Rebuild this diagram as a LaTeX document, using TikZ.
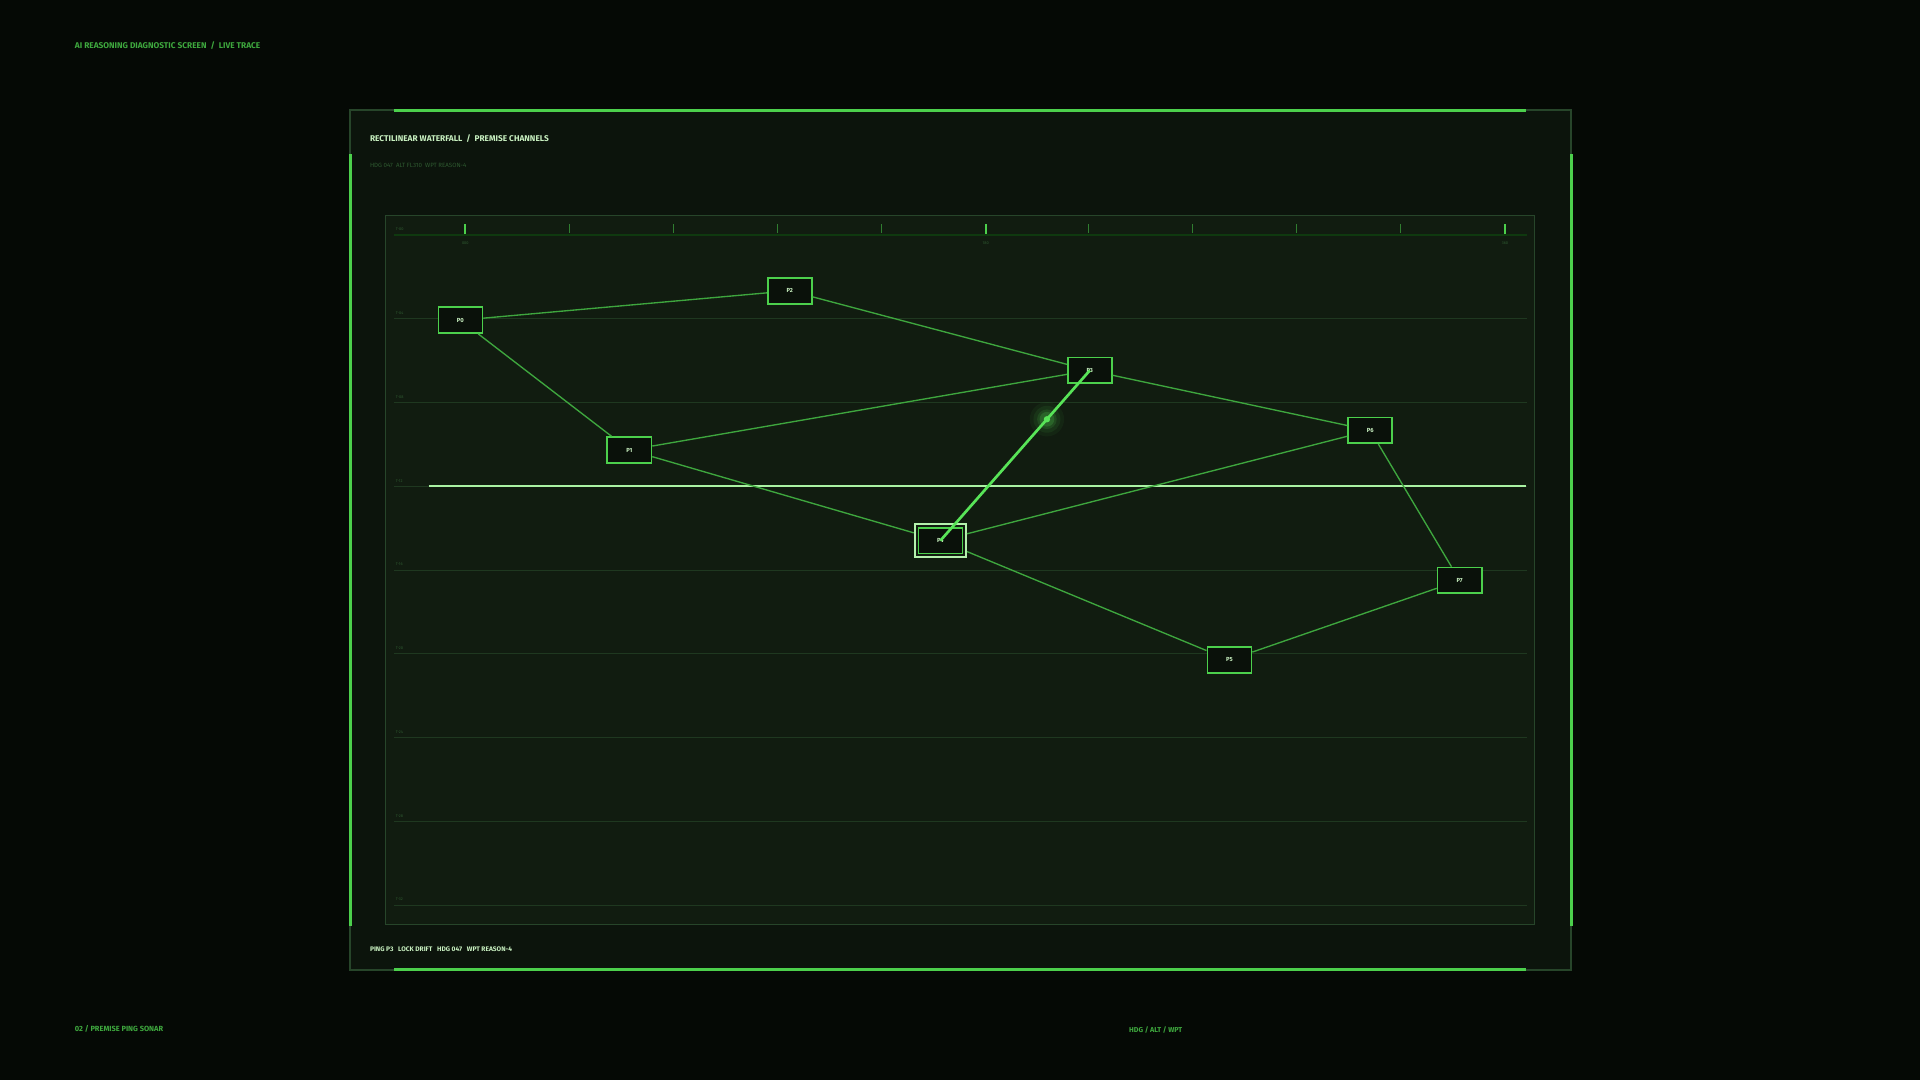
\documentclass[tikz,border=0pt]{standalone}
\usepackage{fontspec}
\newfontfamily\hud{Fira Sans}
\definecolor{bgc}{HTML}{050905}
\definecolor{panelc}{HTML}{0C140C}
\definecolor{plotc}{HTML}{111C10}
\definecolor{dimborder}{HTML}{27452A}
\definecolor{brightg}{HTML}{4CD04C}
\definecolor{edgeg}{HTML}{3EA63E}
\definecolor{hig}{HTML}{58E458}
\definecolor{paleg}{HTML}{C8F0C0}
\definecolor{gridc}{HTML}{1F3820}
\definecolor{dimtxt}{HTML}{2E5A30}
\definecolor{midtxt}{HTML}{3EA83E}
\definecolor{boxfill}{HTML}{0A110A}
\tikzset{
  pnode/.style={draw=brightg, line width=1.4pt, fill=boxfill, minimum width=36pt, minimum height=21pt, inner sep=0pt, text=paleg, font=\hud\bfseries\fontsize{4.8}{5}\selectfont},
  edgeline/.style={draw=edgeg, line width=1.1pt},
  hiline/.style={draw=hig, line width=2.2pt},
  gridline/.style={draw=gridc, line width=0.7pt},
  ticklbl/.style={text=dimtxt, font=\hud\fontsize{3.2}{4}\selectfont, inner sep=0pt},
  hudtxt/.style={anchor=west, inner sep=0pt, font=\hud\bfseries\fontsize{6.8}{8}\selectfont},
}
\begin{document}
\begin{tikzpicture}[x=1pt,y=-1pt]
\useasboundingbox (0,0) rectangle (1568,882);
\fill[bgc] (0,0) rectangle (1568,882);
% outer panel
\fill[panelc] (286,90) rectangle (1283,792);
\draw[dimborder, line width=1.6pt] (286,90) rectangle (1283,792);
\draw[brightg, line width=2.4pt] (322,90) -- (1246,90);
\draw[brightg, line width=2.4pt] (322,792) -- (1246,792);
\draw[brightg, line width=2.4pt] (286,126) -- (286,756);
\draw[brightg, line width=2.4pt] (1283,126) -- (1283,756);
% texts
\node[hudtxt, text=midtxt] (ttl) at (61,37) {AI REASONING DIAGNOSTIC SCREEN~~/~~LIVE TRACE};
\node[hudtxt, text=paleg] (ptitle) at (302,113) {RECTILINEAR WATERFALL~~/~~PREMISE CHANNELS};
\node[hudtxt, text=dimtxt, font=\hud\fontsize{5}{6}\selectfont] (psub) at (302,135) {HDG 047~~ALT FL310~~WPT REASON-4};
\node[hudtxt, text=paleg, font=\hud\bfseries\fontsize{5.4}{6}\selectfont] (status) at (302,775) {PING P3~~~LOCK DRIFT~~~HDG 047~~~WPT REASON-4};
\node[hudtxt, text=midtxt, font=\hud\bfseries\fontsize{6.1}{7}\selectfont] (foot) at (61,840) {02 / PREMISE PING SONAR};
\node[hudtxt, text=midtxt, font=\hud\bfseries\fontsize{5.8}{7}\selectfont] (foot2) at (922,841) {HDG / ALT / WPT};
% plot box
\fill[plotc] (315,176) rectangle (1253,755);
\draw[dimborder, line width=0.8pt] (315,176) rectangle (1253,755);
% axis
\draw[gridc!80!green!60!black, line width=1pt] (322,192) -- (1247,192);
\foreach \x in {465,550,635,720,889,974,1059,1144} {\draw[edgeg!70!plotc, line width=0.9pt] (\x,183) -- (\x,190);}
\foreach \x in {380,805,1229} {\draw[brightg, line width=1.8pt] (\x,183) -- (\x,191);}
\node[ticklbl] (tl0) at (380,199) {000};
\node[ticklbl] (tl1) at (805,199) {180};
\node[ticklbl] (tl2) at (1229,199) {360};
\node[ticklbl, anchor=west] (t00) at (323,187) {T-00};
% grid
\foreach \y/\l in {260.4/T-04,328.8/T-08,397.2/T-12,465.6/T-16,534/T-20,602.4/T-24,670.8/T-28,739.2/T-32} {
  \draw[gridline] (322,\y) -- (1247,\y);
  \node[ticklbl, anchor=west] at (323,\y-4.5) {\l};
}
% cursor line
\draw[paleg!85!green, line width=2.2pt] (350,397) -- (1246,397);
% nodes
\node[pnode] (P0) at (376,261.5) {P0};
\node[pnode] (P2) at (645,237.5) {P2};
\node[pnode] (P3) at (890,302.5) {P3};
\node[pnode] (P1) at (514,367.5) {P1};
\node[pnode] (P6) at (1119,351.5) {P6};
\node[pnode] (P4) at (768,441.5) {P4};
\node[pnode] (P5) at (1004,539) {P5};
\node[pnode] (P7) at (1192,474) {P7};
\node[draw=paleg!90!green, line width=1.5pt, minimum width=42pt, minimum height=27pt, inner sep=0pt] (P4ring) at (P4) {};
% edges
\draw[edgeline] (P0) -- (P2);
\draw[edgeline] (P0) -- (P1);
\draw[edgeline] (P2) -- (P3);
\draw[edgeline] (P1) -- (P3);
\draw[edgeline] (P3) -- (P6);
\draw[edgeline] (P1) -- (P4ring);
\draw[edgeline] (P4ring) -- (P6);
\draw[edgeline] (P4ring) -- (P5);
\draw[edgeline] (P6) -- (P7);
\draw[edgeline] (P5) -- (P7);
% highlight
\draw[hiline] (P4.center) -- (P3.center) coordinate[pos=0.713] (dot);
\foreach \r/\o in {14/0.05,11/0.08,8/0.12,6/0.18} {\fill[hig, opacity=\o] (dot) circle (\r pt);}
\fill[hig] (dot) circle (2.6pt);
\end{tikzpicture}
\end{document}
